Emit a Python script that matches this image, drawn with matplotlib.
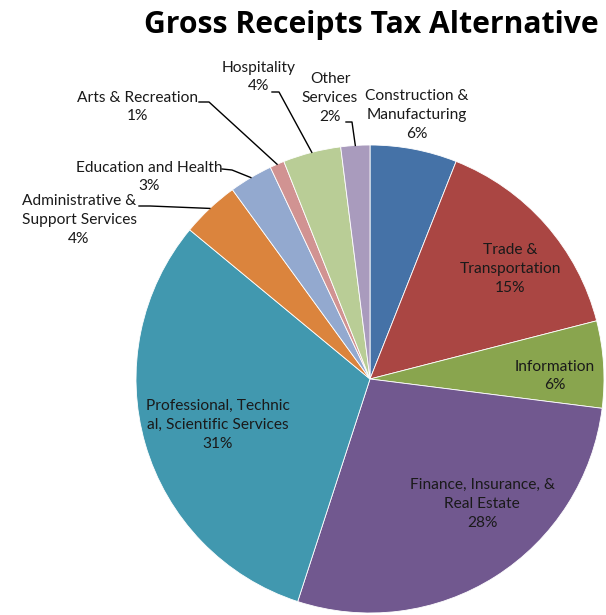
import matplotlib
matplotlib.use("Agg")
import matplotlib.pyplot as plt
import numpy as np

plt.rcParams["font.family"] = ["Lato", "DejaVu Sans"]

# Sector shares (%), clockwise from 12 o'clock
sectors = ["Construction &\nManufacturing", "Trade &\nTransportation", "Information",
           "Finance, Insurance, &\nReal Estate", "Professional, Technic\nal, Scientific Services",
           "Administrative &\nSupport Services", "Education and Health", "Arts & Recreation",
           "Hospitality", "Other\nServices"]
shares = [6, 15, 6, 28, 31, 4, 3, 1, 4, 2]
colors = ["#4572A7", "#AA4643", "#89A54E", "#71588F", "#4198AF",
          "#DB843D", "#93A9CF", "#D19392", "#B9CD96", "#A99BBD"]

W, H = 606, 615
CX, CY, R = 370, 379, 234

def px(x, y):
    # pixel position -> data units (pie radius = 1)
    return (x - CX) / R, (CY - y) / R

# label block centres in pixels
label_pos = [(417, 115), (510, 269), (555, 376), (482, 504), (218, 425),
             (79, 220), (149, 177), (137, 107), (259, 77), (330, 98)]
# leader lines for the small outside labels: start point and knee
leaders = {5: [(139, 206), (150, 206)],
           6: [(222, 169), (232, 170)],
           7: [(199, 102), (209, 102)],
           8: [(272, 92), (279, 92)],
           9: [(346, 122), (352, 122)]}

fig = plt.figure(figsize=(W / 100, H / 100), dpi=100)
ax = fig.add_axes([0, 0, 1, 1])

wedges, _ = ax.pie(shares, colors=colors, startangle=90, counterclock=False,
                   radius=1, wedgeprops=dict(edgecolor="white", linewidth=0.6))
ax.set_xlim(-CX / R, (W - CX) / R)
ax.set_ylim((CY - H) / R, CY / R)
ax.set_aspect("equal")
ax.axis("off")

txt_color = "#1a1a1a"
for i, (name, val) in enumerate(zip(sectors, shares)):
    x, y = px(*label_pos[i])
    ax.text(x, y, f"{name}\n{val}%", ha="center", va="center", fontsize=11.2,
            color=txt_color, linespacing=1.45)
    if i in leaders:
        w = wedges[i]
        mid = np.deg2rad((w.theta1 + w.theta2) / 2)
        pts = [px(*p) for p in leaders[i]] + [(np.cos(mid), np.sin(mid))]
        ax.plot([p[0] for p in pts], [p[1] for p in pts], color="black", lw=1)

fig.text(371 / W, 1 - 33 / H, "Gross Receipts Tax Alternative", ha="center",
         va="baseline", fontsize=21.7, fontweight="bold", color="black",
         family=["Open Sans", "DejaVu Sans"])

fig.savefig("out.png", dpi=100)
